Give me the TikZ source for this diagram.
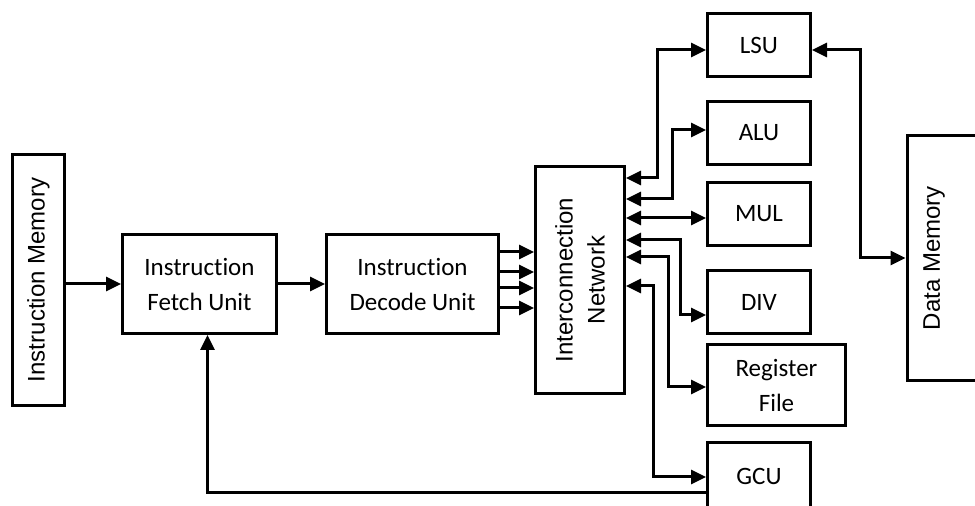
\documentclass[tikz,border=0pt]{standalone}
\usepackage{fontspec}
\setmainfont{Carlito}[Ligatures={NoCommon,NoRare}]
\newfontfamily\arialfont{Liberation Sans}
\usetikzlibrary{arrows.meta,positioning}
\tikzset{
  unitbox/.style={
    rectangle, draw=black, line width=1.5pt,
    font=\fontsize{12.5}{17.5}\selectfont, align=center,
    inner sep=0pt
  },
  fubox/.style={
    unitbox, minimum width=51.5pt, minimum height=31.5pt
  },
  membox/.style={
    rectangle, draw=black, line width=1.5pt, rotate=90,
    font=\arialfont\fontsize{12}{16}\selectfont, align=center,
    inner sep=0pt
  },
  memtext/.style={
    rotate=90, font=\arialfont\fontsize{12}{16}\selectfont, inner sep=0pt
  },
  dataarrow/.style={
    -{Triangle[length=7.5pt, width=7pt]}, line width=1.5pt
  },
  bidataarrow/.style={
    {Triangle[length=7.5pt, width=7pt]}-{Triangle[length=7.5pt, width=7pt]}, line width=1.5pt
  },
}

\begin{document}
\begin{tikzpicture}[x=0.5pt, y=-0.5pt]
  \useasboundingbox (0,0) rectangle (975,506);

  % front end
  \node[membox, minimum width=125.5pt, minimum height=26pt] (imem) at (38.5,280) {Instruction Memory};
  \node[unitbox, minimum width=77pt, minimum height=49.5pt] (ifu) at (199.5,284) {Instruction\\Fetch Unit};
  \node[unitbox, right=23.5pt of ifu, minimum width=86pt, minimum height=49.5pt] (idu) {Instruction\\Decode Unit};
  \node[membox, minimum width=113.5pt, minimum height=44.5pt] (icn) at (580,280) {Interconnection\\Network};

  % function units
  \node[fubox] (lsu) at (759,45) {LSU};
  \node[fubox, below=11pt of lsu] (alu) {ALU};
  \node[fubox, below=7.5pt of alu] (mul) {MUL};
  \node[fubox, below=11pt of mul] (div) {DIV};
  \node[fubox, below=4pt of div.south west, anchor=north west, minimum width=69pt, minimum height=40.5pt] (reg) {Register\\File};
  \node[fubox, below=7pt of reg.south west, anchor=north west, minimum height=33.5pt] (gcu) {GCU};

  % data memory (runs off the right edge)
  \node[rectangle, draw=black, line width=1.5pt, minimum width=46.5pt, minimum height=122.5pt] (dmem) at (953.5,258) {};
  \node[memtext] (dmemtxt) at (934,258) {Data Memory};

  % pipeline
  \draw[dataarrow] (imem.south |- ifu.west) -- (ifu.west);
  \draw[dataarrow] (ifu) -- (idu);
  \foreach \y in {252,272,288,308}
    \draw[dataarrow] (idu.east |- 0,\y) -- (icn.north |- 0,\y);

  % network to units
  \draw[bidataarrow] (icn.south |- 0,178) -- (657,178) |- (lsu.west |- 0,50);
  \draw[bidataarrow] (icn.south |- 0,199) -- (672,199) |- (alu.west |- 0,130);
  \draw[bidataarrow] (icn.south |- 0,218) -- (mul.west |- 0,218);
  \draw[bidataarrow] (icn.south |- 0,240) -- (680,240) |- (div.west |- 0,315);
  \draw[bidataarrow] (icn.south |- 0,257) -- (668,257) |- (reg.west |- 0,387);
  \draw[bidataarrow] (icn.south |- 0,286) -- (653,286) |- (gcu.west |- 0,477);
  \draw[bidataarrow] (dmem.west |- 0,258) -- (860,258) |- (lsu.east |- 0,50);

  % branch feedback
  \draw[dataarrow] (gcu.west |- 0,493) -| ([xshift=4pt]ifu.south);
\end{tikzpicture}
\end{document}
